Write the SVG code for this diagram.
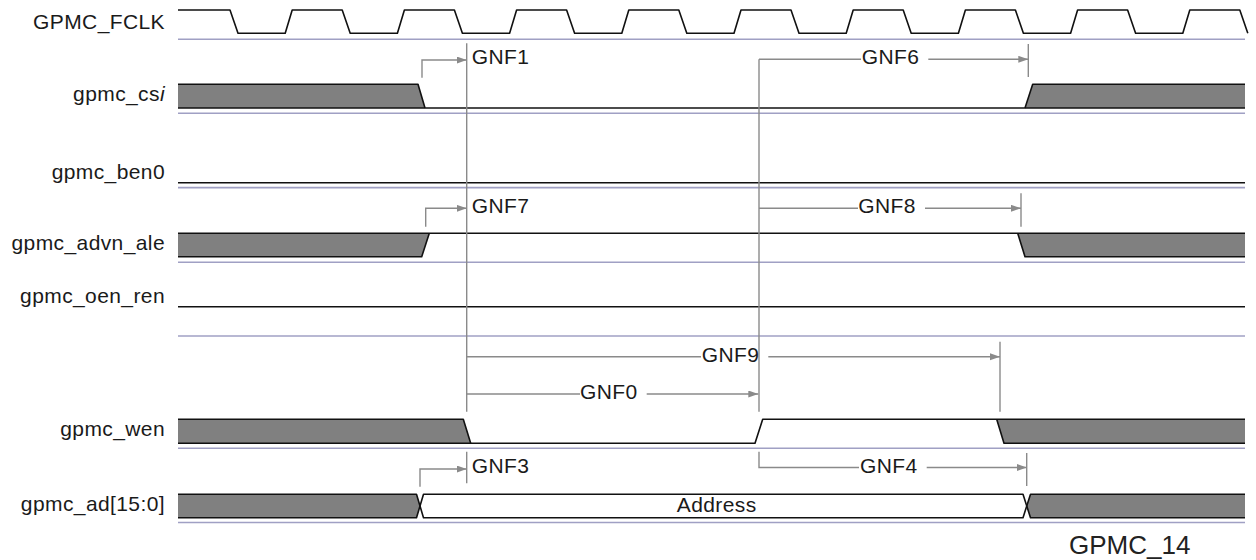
<svg xmlns="http://www.w3.org/2000/svg" width="1256" height="560" viewBox="0 0 1256 560">
<style>
text{font-family:"Liberation Sans",Arial,sans-serif;font-size:21px;fill:#1a1a1a;letter-spacing:0.4px}
.lbl{text-anchor:end}
.sig{fill:none;stroke:#111;stroke-width:1.6;stroke-linejoin:round}
.gry{fill:#808080;stroke:none}
.sep{stroke:#a0a0c4;stroke-width:1.6;fill:none}
.tm{stroke:#8a8a8a;stroke-width:1.4;fill:none}
.tma{stroke:#8a8a8a;stroke-width:1.4;fill:none;marker-end:url(#ah)}
</style>
<defs>
<marker id="ah" markerUnits="userSpaceOnUse" markerWidth="11" markerHeight="8" refX="10" refY="3.5" orient="auto">
<path d="M0,0 L10,3.5 L0,7 Z" fill="#8a8a8a"/>
</marker>
</defs>
<rect width="1256" height="560" fill="#fff"/>

<g id="sig-fclk">
<text class="lbl" x="165" y="28.5">GPMC_FCLK</text>
<path class="sig" d="M178,10 H230 L238,33.3 H285.2 L292.2,10 H342.2 L350.2,33.3 H397.4 L404.4,10 H454.4 L462.4,33.3 H509.6 L516.6,10 H566.6 L574.6,33.3 H621.8 L628.8,10 H678.8 L686.8,33.3 H734 L741,10 H791 L799,33.3 H846.2 L853.2,10 H903.2 L911.2,33.3 H958.4 L965.4,10 H1015.4 L1023.4,33.3 H1070.6 L1077.6,10 H1127.6 L1135.6,33.3 H1182.8 L1189.8,10 H1239.8 L1247.8,33.3"/>
<line class="sep" x1="178" y1="39.3" x2="1245" y2="39.3"/>
</g>

<g id="sig-csi">
<text class="lbl" x="165" y="101">gpmc_cs<tspan font-style="italic">i</tspan></text>
<polygon class="gry" points="178,84.3 418,84.3 425,108 178,108"/>
<polygon class="gry" points="1032.7,84.3 1245,84.3 1245,108 1025,108"/>
<path class="sig" d="M178,84.3 H418 L425,108"/>
<path class="sig" d="M178,108 H1245"/>
<path class="sig" d="M1025,108 L1032.7,84.3 H1245"/>
<line class="sep" x1="178" y1="113.3" x2="1245" y2="113.3"/>
</g>

<g id="sig-ben0">
<text class="lbl" x="165" y="179">gpmc_ben0</text>
<path class="sig" d="M178,182.7 H1245"/>
<line class="sep" x1="178" y1="187.6" x2="1245" y2="187.6"/>
</g>

<g id="sig-advn">
<text class="lbl" x="165" y="250">gpmc_advn_ale</text>
<polygon class="gry" points="178,233.3 429.3,233.3 421.7,256.7 178,256.7"/>
<polygon class="gry" points="1017.7,233.3 1245,233.3 1245,256.7 1025,256.7"/>
<path class="sig" d="M178,233.3 H1245"/>
<path class="sig" d="M178,256.7 H421.7 L429.3,233.3"/>
<path class="sig" d="M1017.7,233.3 L1025,256.7 H1245"/>
<line class="sep" x1="178" y1="262.3" x2="1245" y2="262.3"/>
</g>

<g id="sig-oen">
<text class="lbl" x="165" y="303">gpmc_oen_ren</text>
<path class="sig" d="M178,306.7 H1245"/>
<line class="sep" x1="178" y1="336" x2="1245" y2="336"/>
</g>

<g id="sig-wen">
<text class="lbl" x="165" y="436">gpmc_wen</text>
<polygon class="gry" points="178,419.3 463.3,419.3 470.7,443.3 178,443.3"/>
<polygon class="gry" points="996.7,419.3 1245,419.3 1245,443.3 1004,443.3"/>
<path class="sig" d="M178,419.3 H463.3 L470.7,443.3"/>
<path class="sig" d="M178,443.3 H755 L762.7,419.3 H1245"/>
<path class="sig" d="M996.7,419.3 L1004,443.3 H1245"/>
<line class="sep" x1="178" y1="448.3" x2="1245" y2="448.3"/>
</g>

<g id="sig-ad">
<text class="lbl" x="165" y="511">gpmc_ad[15:0]</text>
<polygon class="gry" points="178,494.3 416.5,494.3 420,506 416.5,517.7 178,517.7"/>
<polygon class="gry" points="1030.5,494.3 1245,494.3 1245,517.7 1030.5,517.7 1026.8,506"/>
<path class="sig" d="M178,494.3 H416.5 L423.5,517.7 H1023 L1030.5,494.3 H1245"/>
<path class="sig" d="M178,517.7 H416.5 L423.5,494.3 H1023 L1030.5,517.7 H1245"/>
<text x="716.7" y="511.7" text-anchor="middle">Address</text>
<line class="sep" x1="178" y1="522.5" x2="1245" y2="522.5"/>
</g>

<g id="connectors">
<line class="tm" x1="466.7" y1="43.3" x2="466.7" y2="411.7"/>
<line class="tm" x1="759" y1="59.3" x2="759" y2="411.7"/>
<line class="tm" x1="1000" y1="341.7" x2="1000" y2="411.7"/>
<line class="tm" x1="1028.3" y1="44" x2="1028.3" y2="77"/>
<line class="tm" x1="1021" y1="193.3" x2="1021" y2="226.7"/>
<line class="tm" x1="466.7" y1="451.7" x2="466.7" y2="483.3"/>
<line class="tm" x1="1026.7" y1="453" x2="1026.7" y2="486"/>

<polyline class="tma" points="422,77.7 422,60 466.7,60"/>
<line class="tm" x1="759" y1="59.3" x2="861" y2="59.3"/>
<line class="tma" x1="928.3" y1="59.3" x2="1028.3" y2="59.3"/>

<polyline class="tma" points="425.7,226.7 425.7,208.3 466.7,208.3"/>
<line class="tm" x1="759" y1="208.3" x2="858" y2="208.3"/>
<line class="tma" x1="925" y1="208.3" x2="1021" y2="208.3"/>

<line class="tm" x1="466.7" y1="356.7" x2="701" y2="356.7"/>
<line class="tma" x1="768.3" y1="356.7" x2="1000" y2="356.7"/>

<line class="tm" x1="466.7" y1="394" x2="580" y2="394"/>
<line class="tma" x1="646.7" y1="394" x2="758.3" y2="394"/>

<polyline class="tma" points="420,486.7 420,469 466.7,469"/>
<polyline class="tm" points="759,451.7 759,467.5 859,467.5"/>
<line class="tma" x1="926.7" y1="467.5" x2="1026.7" y2="467.5"/>
</g>

<g id="labels">
<text x="471.7" y="64">GNF1</text>
<text x="861.7" y="63.5">GNF6</text>
<text x="471.7" y="212.7">GNF7</text>
<text x="858.3" y="212.7">GNF8</text>
<text x="701.7" y="362.3">GNF9</text>
<text x="580" y="399.3">GNF0</text>
<text x="471.7" y="473.3">GNF3</text>
<text x="860" y="473">GNF4</text>
<text x="1069" y="554" style="font-size:26px;letter-spacing:0;fill:#222">GPMC_14</text>
</g>
</svg>
